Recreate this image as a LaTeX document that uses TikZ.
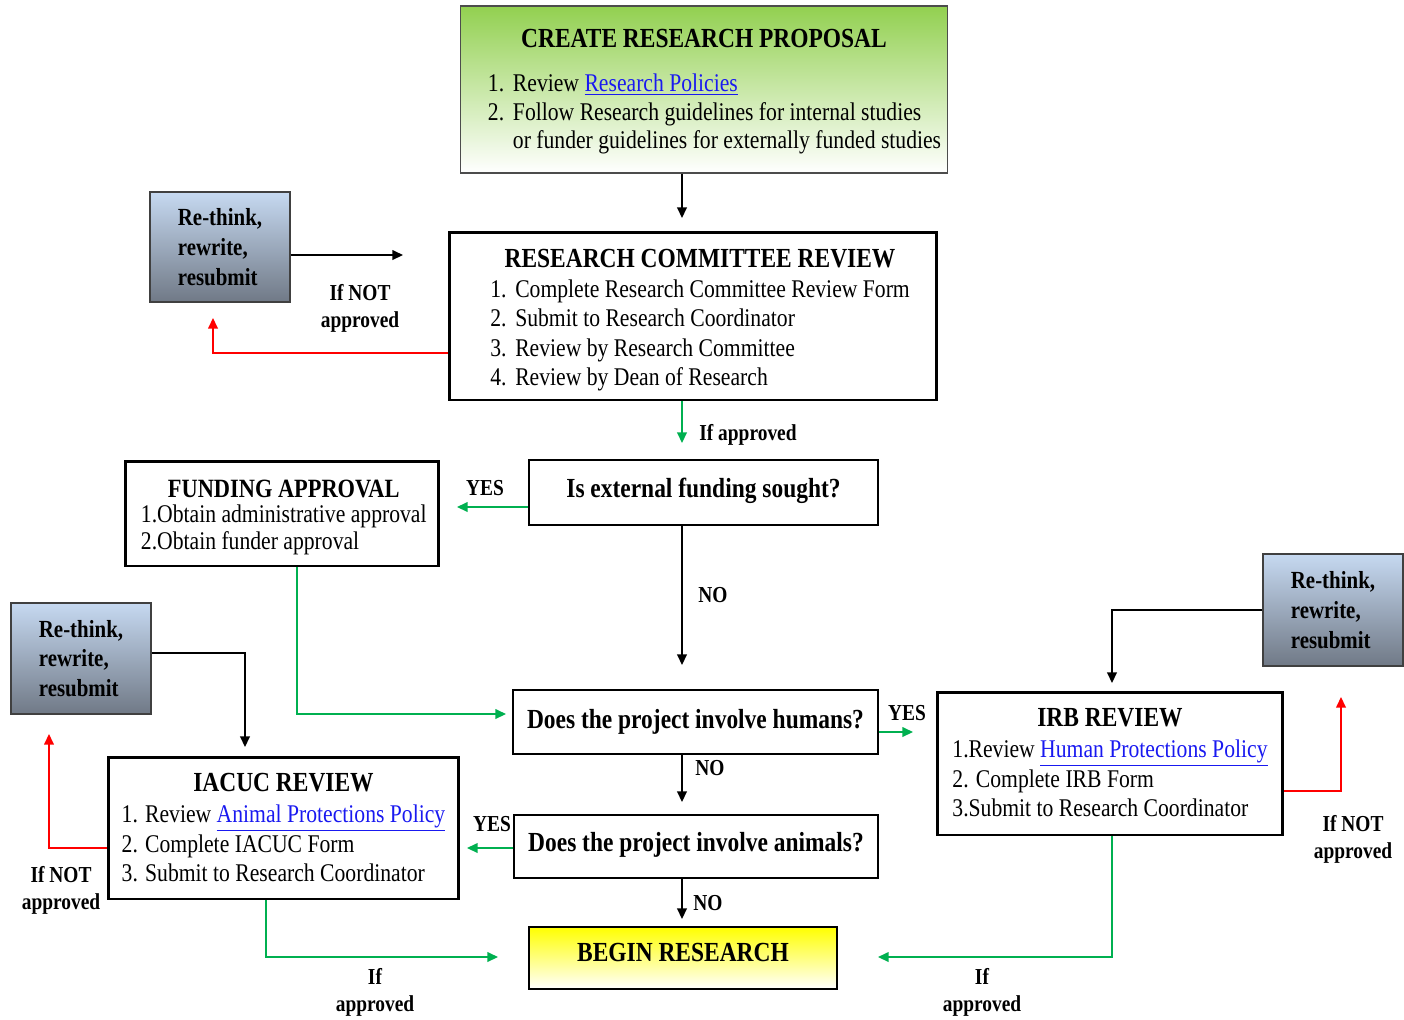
\documentclass[tikz,border=0pt]{standalone}
\usepackage{fontspec}
\setmainfont{Liberation Serif}[FakeStretch=0.85]
\usetikzlibrary{arrows.meta}

\definecolor{okgreen}{RGB}{0,176,80}
\definecolor{linkblue}{RGB}{25,25,240}
\definecolor{propgreen}{RGB}{146,208,80}
\definecolor{rethinktop}{RGB}{198,217,241}
\definecolor{rethinkbot}{RGB}{112,121,134}
\definecolor{beginyellow}{RGB}{255,255,0}

\newcommand{\weblink}[1]{\textcolor{linkblue}{\underline{#1}}}
\newcommand{\bodysize}{\fontsize{14.5}{16.8}\selectfont}
\newcommand{\titlesize}{\fontsize{15.7}{18}\selectfont}
\newcommand{\labelsize}{\fontsize{13}{15.4}\selectfont}
% move box text a little without changing the box
\newcommand{\nudge}[3]{\hspace*{#1}\raisebox{#2}[\height][\depth]{#3}\hspace*{-#1}}

\begin{document}
\begin{tikzpicture}[x=0.02cm,y=-0.02cm,
		stepbox/.style={draw,line width=1.7pt,inner sep=2pt},
		askbox/.style={draw,line width=0.7pt,inner sep=2pt,font=\titlesize\bfseries},
		rethinkbox/.style={draw=black!75,line width=0.8pt,align=left,
			top color=rethinktop,bottom color=rethinkbot,
			minimum width=2.8cm,font=\fontsize{14}{17}\selectfont\bfseries},
		notelabel/.style={align=center,inner sep=0pt,font=\labelsize\bfseries}]
	\useasboundingbox (0,0) rectangle (1404,1019);

	% main steps
	\node[draw=black!70,line width=0.6pt,top color=propgreen,bottom color=white,
		minimum width=9.76cm,minimum height=3.34cm] (proposal) at (704,89.5)
		{\nudge{0pt}{-1.7pt}{\fontsize{14.5}{16.2}\selectfont
		\begin{tabular}{@{\hspace{12pt}}l@{\hspace{5pt}}l@{}}
			\multicolumn{2}{@{}c@{}}{\titlesize\bfseries CREATE RESEARCH PROPOSAL}\\[8.7pt]
			1. & Review \weblink{Research Policies}\\
			2. & Follow Research guidelines for internal studies\\
			   & or funder guidelines for externally funded studies
		\end{tabular}}};

	\node[stepbox,minimum width=9.76cm,minimum height=3.36cm] (committee) at (693,316)
		{\nudge{4pt}{-2.8pt}{\bodysize\begin{tabular}{@{}l@{\hspace{5pt}}l@{}}
			\multicolumn{2}{c}{\titlesize\bfseries RESEARCH COMMITTEE REVIEW}\\[0pt]
			1. & Complete Research Committee Review Form\\
			2. & Submit to Research Coordinator\\
			3. & Review by Research Committee\\
			4. & Review by Dean of Research
		\end{tabular}}};

	\node[askbox,minimum width=6.98cm,minimum height=1.3cm] (external) at (703.5,492.5)
		{\nudge{0pt}{1pt}{Is external funding sought?}};

	\node[stepbox,minimum width=6.28cm,minimum height=2.1cm] (funding) at (282,513.5)
		{\nudge{1pt}{-2.5pt}{\fontsize{14.5}{15.4}\selectfont\begin{tabular}{@{}l@{}}
			\multicolumn{1}{c}{\fontsize{15}{17}\selectfont\bfseries FUNDING APPROVAL}\\[-1pt]
			1.Obtain administrative approval\\
			2.Obtain funder approval
		\end{tabular}}};

	\node[askbox,minimum width=7.3cm,minimum height=1.28cm] (humans) at (695.5,722)
		{Does the project involve humans?};

	\node[stepbox,minimum width=6.92cm,minimum height=2.86cm] (irb) at (1110,763.5)
		{\nudge{0pt}{-1.2pt}{\bodysize\begin{tabular}{@{}l@{}}
			\multicolumn{1}{c}{\titlesize\bfseries IRB REVIEW}\\[1pt]
			1.Review \weblink{Human Protections Policy}\\
			2. Complete IRB Form\\
			3.Submit to Research Coordinator
		\end{tabular}}};

	\node[askbox,minimum width=7.28cm,minimum height=1.26cm] (animals) at (696,846.5)
		{\nudge{0pt}{1pt}{Does the project involve animals?}};

	\node[stepbox,minimum width=7.02cm,minimum height=2.84cm] (iacuc) at (283.5,828)
		{\nudge{0pt}{-1.5pt}{\bodysize\begin{tabular}{@{}l@{}}
			\multicolumn{1}{c}{\titlesize\bfseries IACUC REVIEW}\\[1pt]
			1. Review \weblink{Animal Protections Policy}\\
			2. Complete IACUC Form\\
			3. Submit to Research Coordinator
		\end{tabular}}};

	\node[askbox,top color=beginyellow,bottom color=white,
		minimum width=6.16cm,minimum height=1.24cm] (begin) at (683,958)
		{\nudge{0pt}{3.4pt}{BEGIN RESEARCH}};

	% re-think boxes
	\node[rethinkbox,minimum height=2.2cm] (rethinkA) at (220,247) {Re-think,\\rewrite,\\resubmit};
	\node[rethinkbox,minimum height=2.22cm] (rethinkB) at (81,658.5) {Re-think,\\rewrite,\\resubmit};
	\node[rethinkbox,minimum height=2.24cm] (rethinkC) at (1333,610) {Re-think,\\rewrite,\\resubmit};

	% free ends
	\coordinate (c1) at (682,218);
	\coordinate (c2) at (403,255);
	\coordinate (c3) at (213,318);
	\coordinate (c4) at (682,443);
	\coordinate (c5) at (457,507);
	\coordinate (c6) at (682,665);
	\coordinate (c7) at (506,714);
	\coordinate (c8) at (913,732);
	\coordinate (c9) at (682,802);
	\coordinate (c10) at (1112,683);
	\coordinate (c11) at (1341,697);
	\coordinate (c12) at (878,957);
	\coordinate (c13) at (245,747);
	\coordinate (c14) at (49,734);
	\coordinate (c15) at (467,848);
	\coordinate (c16) at (682,919);
	\coordinate (c17) at (498,957);

	% labels
	\node[notelabel] (notA) at (360,308) {If NOT\\approved};
	\node[notelabel,anchor=west] (okA) at (699,435) {If approved};
	\node[notelabel] (yesA) at (485,488) {YES};
	\node[notelabel] (noA) at (713,595) {NO};
	\node[notelabel] (yesB) at (907,713) {YES};
	\node[notelabel] (noB) at (710,768) {NO};
	\node[notelabel] (notB) at (1353,839) {If NOT\\approved};
	\node[notelabel] (yesC) at (492,824) {YES};
	\node[notelabel] (noC) at (708,903) {NO};
	\node[notelabel] (notC) at (61,890) {If NOT\\approved};
	\node[notelabel] (okB) at (375,992) {If\\approved};
	\node[notelabel] (okC) at (982,992) {If\\approved};

	\begin{scope}[line width=0.8pt,>={Triangle[length=6pt,width=5.5pt]}]
		\draw[->] (c1 |- proposal.south) -- (c1);
		\draw[->] (rethinkA.east |- c2) -- (c2);
		\draw[->,red] (committee.west |- 0,353) -| (c3);
		\draw[->,okgreen] (c4 |- committee.south) -- (c4);
		\draw[->,okgreen] (external.west |- c5) -- (c5);
		\draw[->] (c6 |- external.south) -- (c6);
		\draw[->,okgreen] (funding.south -| 297,0) |- (c7);
		\draw[->,okgreen] (humans.east |- c8) -- (c8);
		\draw[->] (c9 |- humans.south) -- (c9);
		\draw[->] (rethinkC.west) -| (c10);
		\draw[->,red] (irb.east |- 0,791) -| (c11);
		\draw[->,okgreen] (irb.south -| c10) |- (c12);
		\draw[->] (rethinkB.east |- 0,653) -| (c13);
		\draw[->,red] (iacuc.west |- 0,848) -| (c14);
		\draw[->,okgreen] (animals.west |- c15) -- (c15);
		\draw[->] (c16 |- animals.south) -- (c16);
		\draw[->,okgreen] (iacuc.south -| 266,0) |- (c17);
	\end{scope}
\end{tikzpicture}
\end{document}
